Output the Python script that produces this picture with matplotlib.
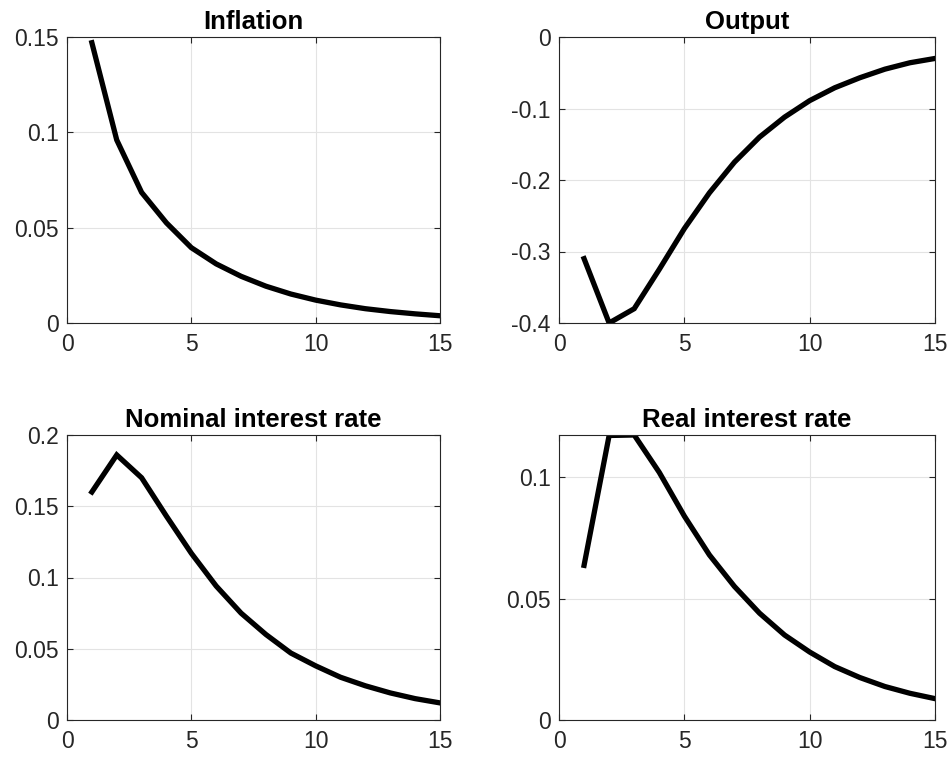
import matplotlib
matplotlib.use("Agg")
import matplotlib.pyplot as plt
from matplotlib.ticker import FuncFormatter

plt.rcParams["font.family"] = ["Liberation Sans", "DejaVu Sans"]

periods = list(range(1, 16))

inflation = [0.147, 0.096, 0.0685, 0.0525, 0.0395, 0.031, 0.0245, 0.0193, 0.0152,
             0.012, 0.0095, 0.0075, 0.006, 0.0048, 0.0038]
output = [-0.31, -0.40, -0.38, -0.325, -0.268, -0.218, -0.175, -0.14, -0.112,
          -0.089, -0.071, -0.057, -0.045, -0.036, -0.03]
nominal = [0.16, 0.186, 0.17, 0.143, 0.117, 0.094, 0.075, 0.06, 0.047,
           0.038, 0.030, 0.024, 0.019, 0.015, 0.012]
real_rate = [0.0637, 0.1172, 0.1174, 0.102, 0.084, 0.068, 0.055, 0.044, 0.035,
             0.028, 0.022, 0.0175, 0.0138, 0.011, 0.0088]

panels = [
    ("Inflation", inflation, (0, 0.15), [0, 0.05, 0.1, 0.15]),
    ("Output", output, (-0.4, 0), [-0.4, -0.3, -0.2, -0.1, 0]),
    ("Nominal interest rate", nominal, (0, 0.2), [0, 0.05, 0.1, 0.15, 0.2]),
    ("Real interest rate", real_rate, (0, max(real_rate)), [0, 0.05, 0.1]),
]

fmt = FuncFormatter(lambda v, _: "%g" % round(v, 6))

fig = plt.figure(figsize=(9.51, 7.61), dpi=100)
# axes rectangles in pixels (left, top, right, bottom)
W, H = 951, 761
boxes = [(67, 37, 440, 323), (559, 37, 935, 323),
         (67, 435, 440, 720), (559, 435, 935, 720)]

for (title, vals, ylim, yticks), (x0, y0, x1, y1) in zip(panels, boxes):
    ax = fig.add_axes([x0 / W, 1 - y1 / H, (x1 - x0) / W, (y1 - y0) / H])
    ax.plot(periods, vals, color="black", linewidth=3.8, solid_joinstyle="miter")
    ax.set_xlim(0, 15)
    ax.set_ylim(*ylim)
    ax.set_xticks([0, 5, 10, 15])
    ax.set_yticks(yticks)
    ax.xaxis.set_major_formatter(fmt)
    ax.yaxis.set_major_formatter(fmt)
    ax.grid(True, color="#e3e3e3", linewidth=0.8)
    ax.set_axisbelow(True)
    ax.tick_params(direction="in", labelsize=16.5, colors="#262626", length=4,
                   top=True, right=True, labeltop=False, labelright=False)
    ax.tick_params(axis="x", pad=7)
    ax.tick_params(axis="y", pad=6)
    for s in ax.spines.values():
        s.set_color("#262626")
        s.set_linewidth(0.8)
    ax.set_title(title, fontsize=18.5, fontweight="bold", pad=6)

fig.savefig("out.png", dpi=100, facecolor="white")
